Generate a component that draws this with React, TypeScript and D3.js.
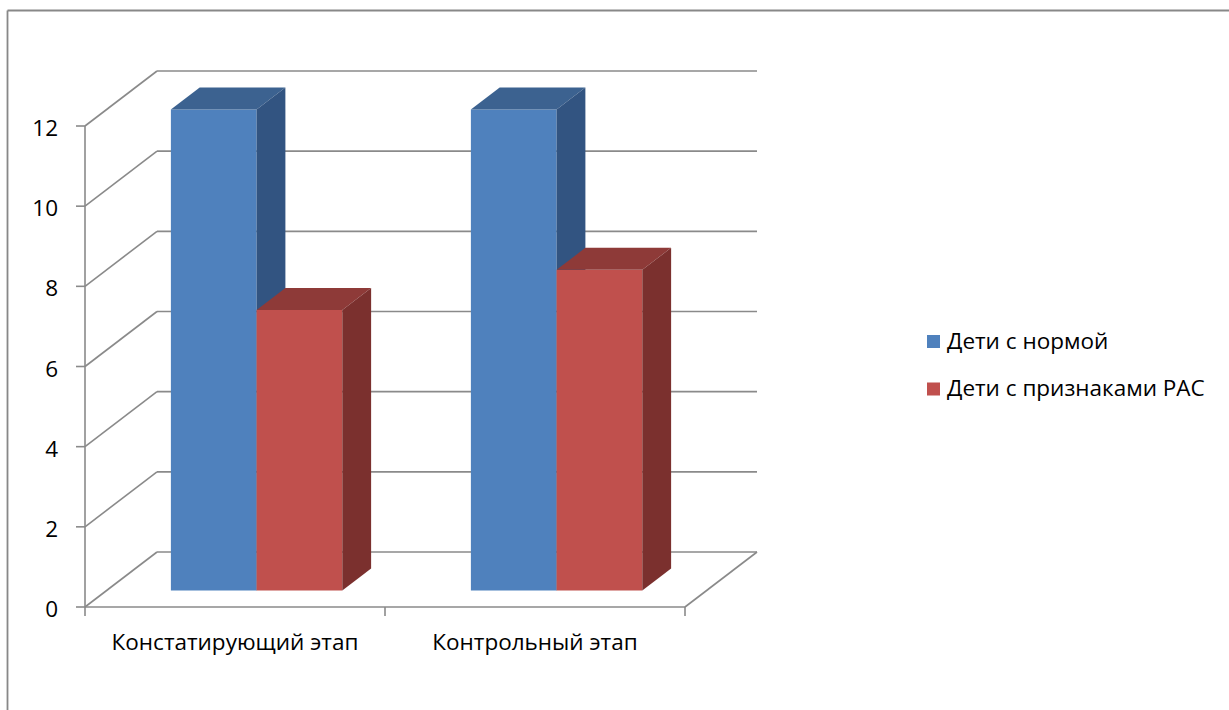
import React from "react";
import * as d3 from "d3";

const categories = ["Констатирующий этап", "Контрольный этап"];
const seriesNames = ["Дети с нормой", "Дети с признаками РАС"];
const normValues = [12, 12];
const rasValues = [7, 8];
const yTicks = [0, 2, 4, 6, 8, 10, 12];

const W = 1229;
const H = 710;
const FONT = "'Open Sans', 'Noto Sans', sans-serif";
const FS = 22.5;

// face colours per series: front, top, side
const palette = [
  { front: "#4F81BD", top: "#3C6290", side: "#325481" },
  { front: "#C0504D", top: "#8E3A38", side: "#7B302E" },
];

const GRID = "#8a8a8a";

export default function App() {
  const left = 85;
  const right = 685;
  const y = d3.scaleLinear().domain([0, 12]).range([607, 126]);
  // full-depth offset of the 3D box
  const dx = 72;
  const dy = -55;
  const fFront = 0.3;
  const fBack = 0.7;

  const x0 = d3.scaleBand<string>().domain(categories).range([left, right]);
  const band = x0.bandwidth();
  const barW = band / 3.5;
  const groupW = barW * 2;
  const x1 = d3.scaleBand<string>().domain(seriesNames).range([0, groupW]);

  const data = [normValues, rasValues];

  const line = (x1_: number, y1_: number, x2_: number, y2_: number, key: string) => (
    <line key={key} x1={x1_} y1={y1_} x2={x2_} y2={y2_} stroke={GRID} strokeWidth={1.6} />
  );

  const bars: React.ReactNode[] = [];
  categories.forEach((cat, ci) => {
    seriesNames.forEach((s, si) => {
      const v = data[si][ci];
      const bx = (x0(cat) as number) + (band - groupW) / 2 + (x1(s) as number) + dx * fFront;
      const yb = y(0) + dy * fFront;
      const yt = y(v) + dy * fFront;
      const ox = dx * (fBack - fFront);
      const oy = dy * (fBack - fFront);
      const c = palette[si];
      const w = x1.bandwidth();
      bars.push(
        <g key={`${ci}-${si}`}>
          <rect x={bx} y={yt} width={w} height={yb - yt} fill={c.front} />
          <polygon
            points={`${bx},${yt} ${bx + ox},${yt + oy} ${bx + w + ox},${yt + oy} ${bx + w},${yt}`}
            fill={c.top}
          />
          <polygon
            points={`${bx + w},${yt} ${bx + w + ox},${yt + oy} ${bx + w + ox},${yb + oy} ${bx + w},${yb}`}
            fill={c.side}
          />
        </g>
      );
    });
  });

  return (
    <svg width={W} height={H} style={{ position: "absolute", left: 0, top: 0, background: "#fff" }}>
      {/* chart border */}
      <line x1={7.5} y1={10.5} x2={W} y2={10.5} stroke="#888" strokeWidth={1.8} />
      <line x1={7.5} y1={10.5} x2={7.5} y2={H} stroke="#888" strokeWidth={1.8} />

      {/* back wall gridlines and side wall diagonals */}
      {yTicks.map((t) => (
        <g key={`g${t}`}>
          {line(left, y(t), left + dx, y(t) + dy, `d${t}`)}
          {line(left + dx, y(t) + dy, right + dx, y(t) + dy, `h${t}`)}
        </g>
      ))}
      {/* floor front edge and right edge */}
      {line(left, y(0), right, y(0), "ff")}
      {line(right, y(0), right + dx, y(0) + dy, "fr")}
      {/* value axis */}
      {line(left, y(12), left, y(0), "ya")}
      {yTicks.map((t) => line(left - 9, y(t), left, y(t), `yt${t}`))}
      {/* category ticks */}
      {[left, left + band, right].map((xv, i) => line(xv, y(0), xv, y(0) + 9, `xt${i}`))}

      {bars}

      {yTicks.map((t) => (
        <text
          key={`yl${t}`}
          x={58}
          y={y(t) + 10}
          textAnchor="end"
          fontFamily={FONT}
          fontSize={FS}
          fill="#000"
        >
          {t}
        </text>
      ))}

      {categories.map((c) => (
        <text
          key={c}
          x={(x0(c) as number) + band / 2}
          y={650}
          textAnchor="middle"
          fontFamily={FONT}
          fontSize={FS}
          fill="#000"
        >
          {c}
        </text>
      ))}

      {seriesNames.map((s, i) => (
        <g key={s} transform={`translate(927, ${335 + i * 47.5})`}>
          <rect x={0} y={0} width={13} height={13} fill={palette[i].front} />
          <text x={20} y={13.5} fontFamily={FONT} fontSize={FS} fill="#000">
            {s}
          </text>
        </g>
      ))}
    </svg>
  );
}
